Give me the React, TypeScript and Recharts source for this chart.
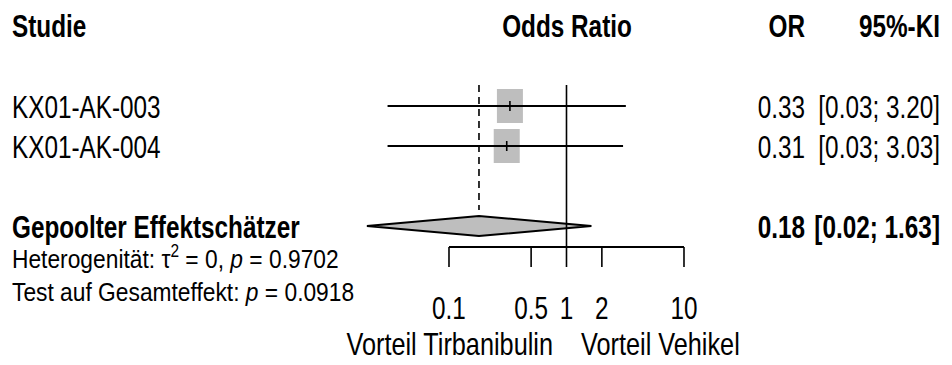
import React from 'react';
import { ComposedChart, Scatter, XAxis, YAxis, Customized } from 'recharts';

// ---------- data ----------
const studyLabels = ['KX01-AK-003', 'KX01-AK-004'];
const studyOR = [0.33, 0.31];
const studyLower = [0.03, 0.03];
const studyUpper = [3.2, 3.03];
const studyRows = [1, 2];

const pooledLabel = 'Gepoolter Effektschätzer';
const pooledOR = 0.18;
const pooledLower = 0.02;
const pooledUpper = 1.63;
const pooledRow = 4;

const xTicks = [0.1, 0.5, 1, 2, 10];
const xTickLabels = ['0.1', '0.5', '1', '2', '10'];

const headerTexts = ['Studie', 'Odds Ratio', 'OR', '95%-KI'];
const hetText = { tau2: '0', p: '0.9702' };
const overallP = '0.0918';
const favourLabels = ['Vorteil Tirbanibulin', 'Vorteil Vehikel'];

// ---------- layout ----------
const W = 952;
const H = 365;
const PLOT_TOP = 85;
const AXIS_H = 118;
const X_DOMAIN: [number, number] = [1.5093e-5, 1909.5];
const Y_DOMAIN: [number, number] = [0.475, 4.525];
const DASH_END_ROW = 3.6;
const DIAMOND_HALF = 0.25;
const SX = 0.76;
const SX_SMALL = 0.86;
const FONT = "'Liberation Sans', Arial, Helvetica, sans-serif";
const FS = 32;
const FS_SMALL = 26.5;
const COL_LABEL = 12;
const COL_OR = 805;
const COL_CI = 940;
const GREY = '#BEBEBE';

const fmt = (v: number) => v.toFixed(2);

type TP = {
  x: number;
  y: number;
  anchor?: string;
  size?: number;
  sx?: number;
  bold?: boolean;
  children?: React.ReactNode;
};
const T = ({ x, y, anchor = 'start', size = FS, sx = SX, bold = false, children }: TP) => (
  <text
    transform={`translate(${x},${y}) scale(${sx},1)`}
    textAnchor={anchor as any}
    fontSize={size}
    fontWeight={bold ? 'bold' : 'normal'}
    fontFamily={FONT}
    fill="#000"
  >
    {children}
  </text>
);

const Empty = () => <g />;

const SquareShape = (props: any) => {
  const { cx, cy } = props;
  return (
    <g>
      <rect x={cx - 13} y={cy - 17} width={26} height={34} fill={GREY} />
      <line x1={cx} x2={cx} y1={cy - 5} y2={cy + 5} stroke="#000" strokeWidth={1.6} />
    </g>
  );
};

const RowTextShape = (props: any) => {
  const { cy, payload } = props;
  const b = payload.bold;
  const y = cy + 11.5;
  return (
    <g>
      <T x={COL_LABEL} y={y} bold={b}>{payload.label}</T>
      <T x={COL_OR} y={y} anchor="end" bold={b}>{payload.orText}</T>
      <T x={COL_CI} y={y} anchor="end" bold={b}>{payload.ciText}</T>
    </g>
  );
};

const Tick = (props: any) => {
  const { x, y, payload } = props;
  const idx = xTicks.indexOf(payload.value);
  return <T x={x} y={y + 22} anchor="middle">{xTickLabels[idx]}</T>;
};

const StaticTexts = () => (
  <g>
    <T x={COL_LABEL} y={37} bold>{headerTexts[0]}</T>
    <T x={567} y={37} anchor="middle" bold>{headerTexts[1]}</T>
    <T x={COL_OR} y={37} anchor="end" bold>{headerTexts[2]}</T>
    <T x={COL_CI} y={37} anchor="end" bold>{headerTexts[3]}</T>
    <T x={COL_LABEL} y={268} size={FS_SMALL} sx={SX_SMALL}>
      Heterogenität: τ<tspan dy={-11} fontSize={18}>2</tspan>
      <tspan dy={11}> = {hetText.tau2}, </tspan>
      <tspan fontStyle="italic">p</tspan> = {hetText.p}
    </T>
    <T x={COL_LABEL} y={301} size={FS_SMALL} sx={SX_SMALL}>
      Test auf Gesamteffekt: <tspan fontStyle="italic">p</tspan> = {overallP}
    </T>
    <T x={553} y={355} anchor="end" sx={0.79}>{favourLabels[0]}</T>
    <T x={581} y={355} anchor="start" sx={0.79}>{favourLabels[1]}</T>
  </g>
);

const squareData = studyLabels.map((_, i) => ({ x: studyOR[i], y: studyRows[i] }));
const rowTextData = [
  ...studyLabels.map((l, i) => ({
    x: studyOR[i],
    y: studyRows[i],
    label: l,
    orText: fmt(studyOR[i]),
    ciText: `[${fmt(studyLower[i])}; ${fmt(studyUpper[i])}]`,
    bold: false,
  })),
  {
    x: pooledOR,
    y: pooledRow,
    label: pooledLabel,
    orText: fmt(pooledOR),
    ciText: `[${fmt(pooledLower)}; ${fmt(pooledUpper)}]`,
    bold: true,
  },
];
const ciData = studyLabels.map((_, i) => [
  { x: studyLower[i], y: studyRows[i] },
  { x: studyUpper[i], y: studyRows[i] },
]);
const diamondData = [
  { x: pooledLower, y: pooledRow },
  { x: pooledOR, y: pooledRow - DIAMOND_HALF },
  { x: pooledUpper, y: pooledRow },
  { x: pooledOR, y: pooledRow + DIAMOND_HALF },
  { x: pooledLower, y: pooledRow },
];
const nullLine = [
  { x: 1, y: Y_DOMAIN[0] },
  { x: 1, y: Y_DOMAIN[1] },
];
const pooledLine = [
  { x: pooledOR, y: Y_DOMAIN[0] },
  { x: pooledOR, y: DASH_END_ROW },
];
const axisLine = [
  { x: xTicks[0], y: Y_DOMAIN[1] },
  { x: xTicks[xTicks.length - 1], y: Y_DOMAIN[1] },
];

export default function App() {
  return (
    <div style={{ position: 'absolute', left: 0, top: 0, width: W, height: H, background: '#fff' }}>
      <ComposedChart width={W} height={H} margin={{ top: PLOT_TOP, right: 0, bottom: 0, left: 0 }}>
        <XAxis
          dataKey="x"
          type="number"
          scale="log"
          domain={X_DOMAIN}
          ticks={xTicks}
          interval={0}
          tickSize={20}
          tickMargin={30}
          axisLine={false}
          tickLine={{ stroke: '#000', strokeWidth: 1.6 }}
          tick={<Tick />}
          height={AXIS_H}
        />
        <YAxis dataKey="y" type="number" domain={Y_DOMAIN} reversed hide width={0} />
        <Scatter data={squareData} shape={SquareShape} isAnimationActive={false} />
        {ciData.map((d, i) => (
          <Scatter
            key={'ci' + i}
            data={d}
            shape={Empty}
            line={{ stroke: '#000', strokeWidth: 2 }}
            lineType="joint"
            isAnimationActive={false}
          />
        ))}
        <Scatter
          data={diamondData}
          shape={Empty}
          line={{ stroke: '#000', strokeWidth: 2, fill: GREY }}
          lineType="joint"
          isAnimationActive={false}
        />
        <Scatter data={nullLine} shape={Empty} line={{ stroke: '#000', strokeWidth: 1.6 }} isAnimationActive={false} />
        <Scatter
          data={pooledLine}
          shape={Empty}
          line={{ stroke: '#000', strokeWidth: 1.6, strokeDasharray: '7 5' }}
          isAnimationActive={false}
        />
        <Scatter data={axisLine} shape={Empty} line={{ stroke: '#000', strokeWidth: 2 }} isAnimationActive={false} />
        <Scatter data={rowTextData} shape={RowTextShape} isAnimationActive={false} />
        <Customized component={StaticTexts} />
      </ComposedChart>
    </div>
  );
}
